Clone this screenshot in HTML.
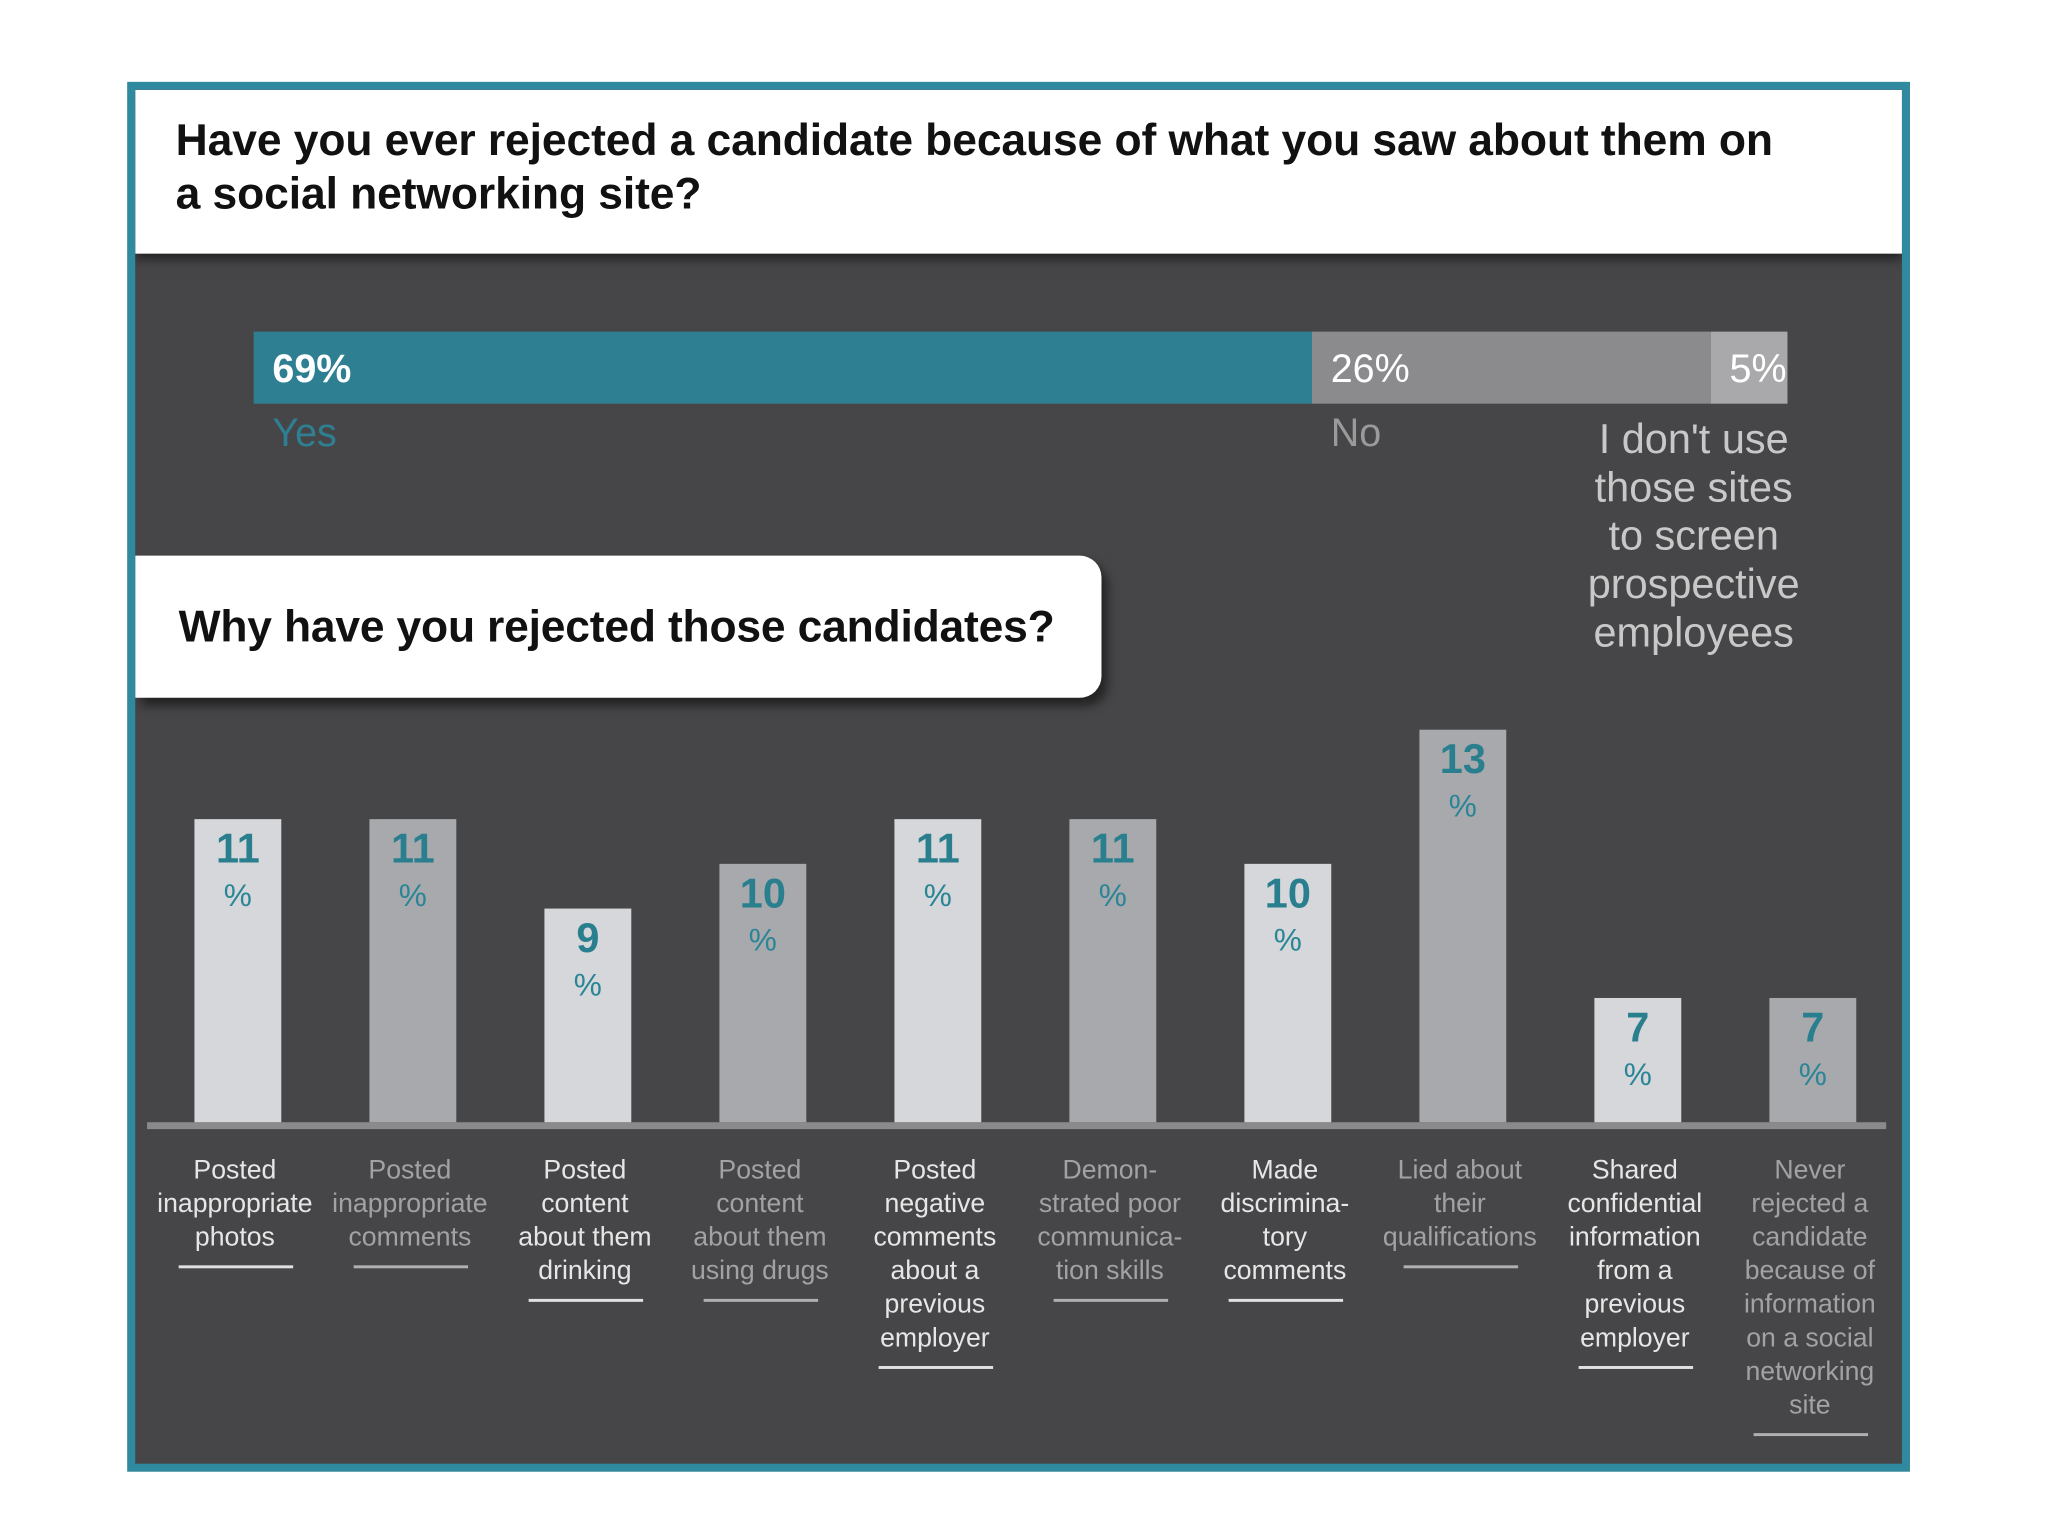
<!DOCTYPE html>
<html><head><meta charset="utf-8"><style>
body{margin:0;width:2048px;height:1536px;background:#fff;overflow:hidden;font-family:"Liberation Sans",sans-serif}
#wrap{position:absolute;left:0;top:0;width:2048px;height:1536px;transform:scale(0.987,0.987);transform-origin:0 0}
#frame{position:absolute;left:129px;top:83px;width:1790px;height:1392px;border:8px solid #2f8aa0;background:#464648;overflow:hidden}
#head{position:absolute;left:0;top:0;width:100%;height:166px;background:#fff;box-shadow:0 6px 10px rgba(0,0,0,.5)}
#title{position:absolute;left:41px;top:24px;font-size:45px;font-weight:700;line-height:54px;color:#111;letter-spacing:-0.1px}
#callout{position:absolute;left:0;top:472px;width:979px;height:144px;background:#fff;border-radius:0 22px 22px 0;box-shadow:6px 8px 10px rgba(0,0,0,.5)}
#callout span{position:absolute;left:44px;top:46px;font-size:45px;font-weight:700;color:#111;letter-spacing:-0.2px}
svg{position:absolute;left:0;top:0}
</style></head><body>
<div id="wrap">
<div id="frame">
<div id="head"><div id="title">Have you ever rejected a candidate because of what you saw about them on<br>a social networking site?</div></div>
<div id="callout"><span>Why have you rejected those candidates?</span></div>
</div>
<svg id="chart" width="2048" height="1536"></svg>
</div>
<script>
const stackLabels=["Yes","No","I don't use those sites to screen prospective employees"];
const stackValues=[69,26,5];
const categories=[["Posted","inappropriate","photos"],["Posted","inappropriate","comments"],["Posted","content","about them","drinking"],["Posted","content","about them","using drugs"],["Posted","negative","comments","about a","previous","employer"],["Demon-","strated poor","communica-","tion skills"],["Made","discrimina-","tory","comments"],["Lied about","their","qualifications"],["Shared","confidential","information","from a","previous","employer"],["Never","rejected a","candidate","because of","information","on a social","networking","site"]];
const values=[11,11,9,10,11,11,10,13,7,7];
const NS="http://www.w3.org/2000/svg";
const svg=document.getElementById('chart');
function mk(t,a,txt){const e=document.createElementNS(NS,t);for(const k in a)e.setAttribute(k,a[k]);if(txt!=null)e.textContent=txt;svg.appendChild(e);return e;}
const sx0=257,sx1=1811;
const sx=v=>sx0+(sx1-sx0)*v/100;
const segCols=["#2e7f91","#8b8b8d","#a9a9ab"];
let acc=0;
stackValues.forEach((v,i)=>{
 const r=mk('rect',{x:sx(acc),y:336,width:sx(acc+v)-sx(acc),height:73,fill:segCols[i]});
 
 
 const t=mk('text',{x:sx(acc)+19,y:387,'font-size':40,fill:'#fff','font-weight':i==0?700:400},v+'%');
 
 
 if(i<2){
  const l=mk('text',{x:sx(acc)+19,y:452,'font-size':40,fill:i==0?'#2e7f91':'#9a9a9a'},stackLabels[i]);
  
  
 }
 acc+=v;
});
["I don't use","those sites","to screen","prospective","employees"].forEach((s,j)=>{
 const t=mk('text',{x:1716,y:459+j*49,'font-size':42,fill:'#c8c8c8','text-anchor':'middle'},s);
 
 
});
const base=1137;
const yh=v=>45.3*(v-4.42)+9;
const cx=i=>241+i*177.3;
const bw=88;
const bl=mk('rect',{x:149,y:base,width:1762,height:7,fill:'#8a8a8c'});


values.forEach((v,i)=>{
 const light=i%2==0;
 const h=yh(v),top=base-h,c=cx(i);
 const r=mk('rect',{x:c-bw/2,y:top,width:bw,height:h,fill:light?'#d5d7da':'#a7a9ac'});
 
 
 const n=mk('text',{x:c,y:top+44,'font-size':42,'font-weight':700,fill:'#2a7f8f','text-anchor':'middle'},v);
 
 
 const p=mk('text',{x:c,y:top+88,'font-size':32,fill:'#2a8596','text-anchor':'middle'},'%');
 
 
 const lines=categories[i];
 lines.forEach((s,j)=>{
  const t=mk('text',{x:c-3,y:1194+j*34,'font-size':27,fill:light?'#e6e6e6':'#a2a2a4','text-anchor':'middle'},s);
  
  
 });
 const u=mk('rect',{x:c-60,y:1182+(lines.length-1)*34+32,width:116,height:3,fill:light?'#e0e0e0':'#b0b0b0'});
 
 
});
</script>
</body></html>
